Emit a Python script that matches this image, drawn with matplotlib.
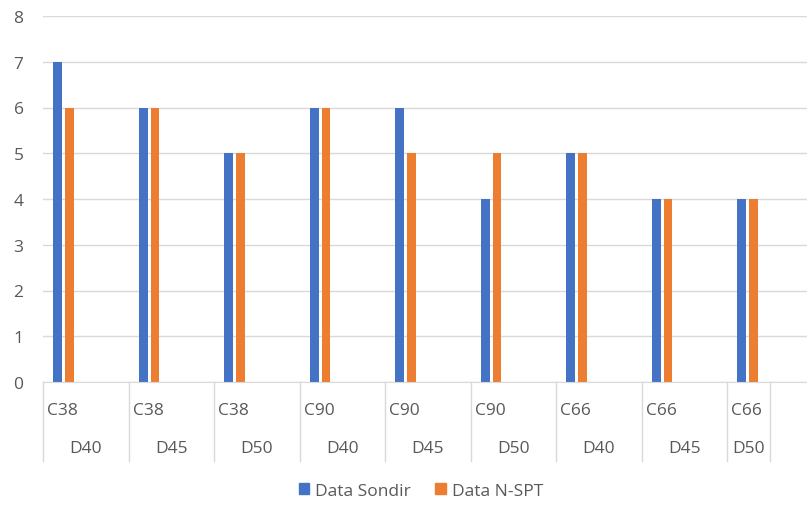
import numpy as np
import matplotlib.pyplot as plt
from matplotlib.lines import Line2D
from matplotlib.patches import Patch

plt.rcParams['font.family'] = ['Open Sans', 'DejaVu Sans']

# data
top_labels = ["C38", "C38", "C38", "C90", "C90", "C90", "C66", "C66", "C66"]
sub_labels = ["D40", "D45", "D50", "D40", "D45", "D50", "D40", "D45", "D50"]
sondir = [7, 6, 5, 6, 6, 4, 5, 4, 4]
nspt = [6, 6, 5, 6, 5, 5, 5, 4, 4]

blue = "#4472C4"
orange = "#ED7D31"
grey_txt = "#595959"
grid_col = "#D9D9D9"
fs = 12.5

W, H = 807, 506
fig = plt.figure(figsize=(W / 100, H / 100), dpi=100)
ax = fig.add_axes([43 / W, (H - 383) / H, (W - 43) / W, (383 - 17) / H])

x = np.arange(len(sondir))
ax.bar(x + 0.17, sondir, width=0.105, color=blue, zorder=3)
ax.bar(x + 0.31, nspt, width=0.105, color=orange, zorder=3)

ax.set_ylim(0, 8)
ax.set_xlim(0, (W - 43) / 85.5)
ax.set_yticks(range(0, 9))
ax.tick_params(axis='y', length=0, pad=14, labelsize=fs, labelcolor=grey_txt)
ax.set_xticks([])
ax.grid(axis='y', color=grid_col, linewidth=1, zorder=0)
for s in ["top", "right", "left"]:
    ax.spines[s].set_visible(False)
ax.spines["bottom"].set_color(grid_col)
ax.spines["bottom"].set_zorder(4)

# multi-level category labels
trans = ax.get_xaxis_transform()
ax_h = 383 - 17
y_top = -(411 - 383) / ax_h
y_sub = -(449 - 383) / ax_h
y_end = -(462 - 383) / ax_h
edges = list(range(len(sondir))) + [len(sondir) - 0.5]
for e in edges:
    ax.add_line(Line2D([e, e], [0, y_end], transform=trans, color=grid_col,
                       linewidth=1, clip_on=False))
for i in range(len(sondir)):
    ax.text(i + 0.05, y_top, top_labels[i], transform=trans, ha='left', va='center',
            fontsize=fs, color=grey_txt)
    right = edges[i + 1]
    ax.text((i + right) / 2, y_sub, sub_labels[i], transform=trans, ha='center',
            va='center', fontsize=fs, color=grey_txt)

handles = [Patch(color=blue, label="Data Sondir"), Patch(color=orange, label="Data N-SPT")]
fig.legend(handles=handles, loc='center', bbox_to_anchor=(421 / W, 14 / H), ncol=2,
           frameon=False, fontsize=fs, labelcolor=grey_txt, handlelength=0.6,
           handleheight=0.6, handletextpad=0.35, columnspacing=1.4)

fig.savefig("out.png", dpi=100)
